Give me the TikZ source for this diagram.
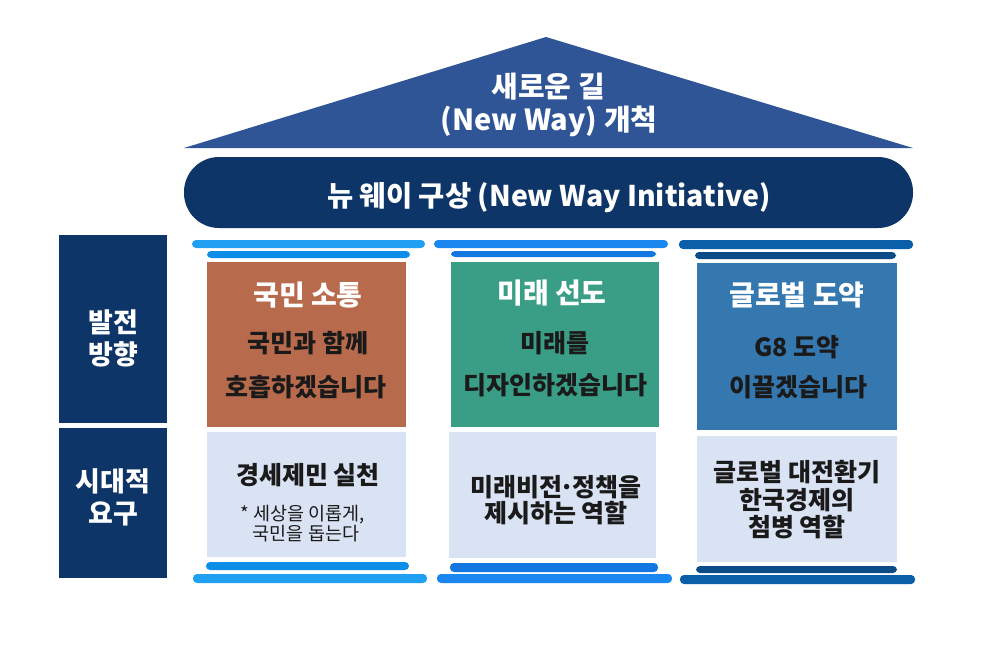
\documentclass[tikz,border=0pt]{standalone}
\usepackage{fontspec}
\setmainfont{Noto Sans CJK KR}
\definecolor{navy}{HTML}{0D3568}
\definecolor{roof}{HTML}{2F5597}
\definecolor{brownbox}{HTML}{B86B4C}
\definecolor{greenbox}{HTML}{3A9D85}
\definecolor{bluebox}{HTML}{3577AF}
\definecolor{lightbox}{HTML}{DAE3F3}
\definecolor{capA}{HTML}{20A0F2}
\definecolor{capAd}{HTML}{0C8DE8}
\definecolor{capB}{HTML}{1A86F0}
\definecolor{capBd}{HTML}{1277E0}
\definecolor{capC}{HTML}{0B5EA8}
\definecolor{capCd}{HTML}{0A4B88}
\definecolor{txt}{HTML}{1A1A1A}
\tikzset{
  rect/.style={anchor=north west, inner sep=0pt, outer sep=0pt, draw=none},
  capbar/.style={rect, rounded corners=4pt},
  title/.style={text=white, font=\bfseries\fontsize{28}{30}\selectfont, inner sep=0pt},
  body/.style={text=txt, font=\bfseries\fontsize{25}{28}\selectfont, inner sep=0pt},
  note/.style={text=txt, font=\fontsize{18.5}{20}\selectfont, inner sep=0pt},
  sidelbl/.style={text=white, font=\bfseries\fontsize{27}{32}\selectfont, align=center, inner sep=0pt},
  rooftxt/.style={text=white, font=\bfseries\fontsize{29}{32}\selectfont, inner sep=0pt},
}
\begin{document}
\begin{tikzpicture}[x=1pt,y=-1pt]
\useasboundingbox (0,0) rectangle (1000,646);
\fill[white] (0,0) rectangle (1000,646);
% roof
\fill[roof] (184,148) -- (546,37) -- (913,148) -- cycle;
\coordinate (apex) at (546,37);
\node[rooftxt] (roofA) at (548,87) {새로운 길};
\node[rooftxt] (roofB) at (549,121) {(New Way) 개척};
% beam
\node[rect, fill=navy, rounded corners=35pt, minimum width=729pt, minimum height=71pt] (beam) at (184,157) {};
\node[text=white, font=\bfseries\fontsize{28.5}{32}\selectfont, inner sep=0pt] (beamtxt) at (549,198) {뉴 웨이 구상 (New Way Initiative)};
% side labels
\node[rect, fill=navy, minimum width=108pt, minimum height=188pt] (side1) at (59,235) {};
\node[sidelbl] (side1t) at (113,338) {발전\\방향};
\node[rect, fill=navy, minimum width=108pt, minimum height=150pt] (side2) at (59,428) {};
\node[sidelbl] (side2t) at (113,497) {시대적\\요구};
% column 1
\node[capbar, fill=capA, minimum width=233pt, minimum height=8pt] (c1t1) at (192,240) {};
\node[capbar, fill=capAd, minimum width=203pt, minimum height=7pt] (c1t2) at (207,251) {};
\node[rect, fill=brownbox, minimum width=199pt, minimum height=165pt] (c1a) at (207,262) {};
\node[rect, fill=lightbox, minimum width=199pt, minimum height=125pt] (c1b) at (207,432) {};
\node[capbar, fill=capAd, minimum width=203pt, minimum height=8pt] (c1b1) at (206,562) {};
\node[capbar, fill=capA, minimum width=234pt, minimum height=9pt] (c1b2) at (193,574) {};
\node[title] (c1h) at (308,295) {국민 소통};
\node[body] (c1l1) at (308,343) {국민과 함께};
\node[body] (c1l2) at (306,387) {호흡하겠습니다};
\node[body] (c1d) at (308,475) {경세제민 실천};
\node[note] (c1n1) at (303,515) {* 세상을 이롭게,};
\node[note] (c1n2) at (306,534) {국민을 돕는다};
% column 2
\node[capbar, fill=capB, minimum width=234pt, minimum height=8pt] (c2t1) at (434,240) {};
\node[capbar, fill=capBd, minimum width=205pt, minimum height=6pt] (c2t2) at (451,251) {};
\node[rect, fill=greenbox, minimum width=208pt, minimum height=165pt] (c2a) at (451,262) {};
\node[rect, fill=lightbox, minimum width=207pt, minimum height=126pt] (c2b) at (449,432) {};
\node[capbar, fill=capBd, minimum width=208pt, minimum height=9pt] (c2b1) at (450,563) {};
\node[capbar, fill=capB, minimum width=235pt, minimum height=9pt] (c2b2) at (437,574) {};
\node[title] (c2h) at (552,293) {미래 선도};
\node[body] (c2l1) at (555,343) {미래를};
\node[body] (c2l2) at (555,385) {디자인하겠습니다};
\node[body] (c2d1) at (556,487) {미래비전\kern-0.12em·\kern-0.12em정책을};
\node[body] (c2d2) at (556,513) {제시하는 역할};
% column 3
\node[capbar, fill=capC, minimum width=234pt, minimum height=9pt] (c3t1) at (679,240) {};
\node[capbar, fill=capCd, minimum width=201pt, minimum height=7pt] (c3t2) at (695,252) {};
\node[rect, fill=bluebox, minimum width=200pt, minimum height=167pt] (c3a) at (697,263) {};
\node[rect, fill=lightbox, minimum width=200pt, minimum height=126pt] (c3b) at (697,436) {};
\node[capbar, fill=capCd, minimum width=201pt, minimum height=7pt] (c3b1) at (696,566) {};
\node[capbar, fill=capC, minimum width=235pt, minimum height=9pt] (c3b2) at (680,575) {};
\node[title] (c3h) at (797,295) {글로벌 도약};
\node[body] (c3l1) at (797,347) {G8 도약};
\node[body] (c3l2) at (798,387) {이끌겠습니다};
\node[body] (c3d1) at (797,472) {글로벌 대전환기};
\node[body] (c3d2) at (797,500) {한국경제의};
\node[body] (c3d3) at (797,527) {첨병 역할};
\end{tikzpicture}
\end{document}
